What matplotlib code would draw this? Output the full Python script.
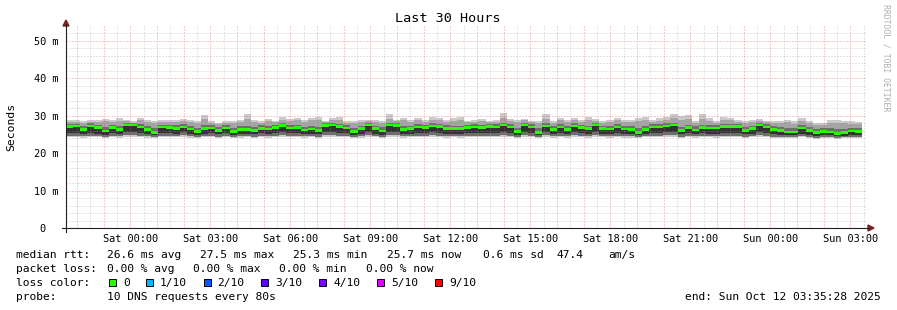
import matplotlib
matplotlib.use("Agg")
import matplotlib.pyplot as plt
from matplotlib.lines import Line2D
from matplotlib.patches import Polygon, Rectangle
import numpy as np

# --- data (ms), one value per 16 min rrd step, Fri 21:35:28 -> Sun 03:35:28 ---
STEP_H = 960 / 3600
START_CLOCK = 21 + 35 / 60 + 28 / 3600   # clock hour of the left edge (Fri)

median = [27.1, 27.2, 26.3, 27.2, 26.8, 25.9, 26.9, 26.3, 27.5, 27.5,
          27.0, 26.3, 25.5, 27.0, 26.9, 26.6, 27.0, 26.4, 25.7, 26.5,
          26.7, 26.0, 26.7, 25.7, 26.3, 26.3, 26.0, 26.6, 26.4, 26.9,
          27.4, 26.7, 26.9, 26.2, 26.4, 26.1, 27.4, 27.5, 27.1, 26.7,
          25.8, 26.5, 27.5, 26.5, 25.9, 27.5, 27.4, 26.3, 26.5, 27.0,
          26.8, 27.2, 27.1, 26.5, 26.5, 26.5, 26.8, 27.0, 26.8, 27.1,
          27.0, 27.5, 27.0, 25.7, 27.5, 27.0, 25.5, 27.2, 26.3, 27.0,
          26.3, 27.2, 26.8, 26.5, 27.5, 26.5, 26.4, 27.0, 26.4, 26.3,
          25.5, 26.3, 27.0, 27.0, 27.2, 27.5, 26.0, 26.8, 26.2, 26.9,
          26.7, 26.7, 27.1, 27.1, 27.1, 26.1, 26.5, 27.5, 27.0, 26.3,
          26.1, 25.6, 25.6, 26.7, 26.0, 25.5, 25.8, 25.6, 25.3, 25.5,
          25.9, 25.7]

smoke_top = [28.9, 28.9, 28.5, 28.9, 28.9, 29.2, 28.9, 29.4, 28.9, 28.5,
             29.4, 28.7, 28.6, 28.8, 28.9, 28.9, 29.1, 28.9, 28.5, 30.1,
             28.6, 28.0, 28.6, 28.5, 28.9, 30.3, 28.9, 28.6, 29.1, 28.5,
             29.5, 29.2, 29.4, 28.9, 29.4, 29.5, 28.6, 29.4, 29.5, 28.6,
             28.5, 28.9, 28.9, 28.9, 28.6, 30.3, 28.9, 29.4, 28.9, 29.4,
             28.9, 29.5, 29.4, 28.9, 29.4, 29.5, 28.6, 28.9, 29.1, 28.6,
             28.9, 30.7, 29.2, 28.9, 29.2, 28.6, 28.6, 30.3, 28.5, 29.4,
             28.9, 29.4, 28.9, 29.5, 29.1, 28.6, 28.9, 29.4, 28.9, 28.9,
             29.4, 29.5, 28.9, 29.4, 29.5, 30.4, 29.8, 30.1, 28.6, 30.3,
             29.4, 28.6, 29.5, 29.4, 28.9, 28.5, 28.9, 29.1, 28.6, 28.5,
             28.5, 28.9, 28.5, 29.4, 28.5, 28.0, 28.0, 28.9, 28.9, 28.5,
             28.5, 28.3]

smoke_upper = [28.4, 28.3, 28.1, 28.4, 28.3, 28.5, 28.4, 28.6, 28.5, 28.1,
               28.7, 28.2, 28.0, 28.3, 28.4, 28.3, 28.5, 28.3, 27.9, 29.0,
               28.1, 27.7, 28.1, 27.9, 28.3, 29.1, 28.3, 28.1, 28.5, 28.2,
               28.9, 28.6, 28.7, 28.3, 28.7, 28.8, 28.2, 28.8, 28.8, 28.1,
               27.9, 28.3, 28.5, 28.4, 28.1, 29.2, 28.5, 28.7, 28.3, 28.7,
               28.4, 28.9, 28.7, 28.3, 28.6, 28.8, 28.2, 28.4, 28.5, 28.2,
               28.4, 29.4, 28.6, 28.2, 28.7, 28.2, 28.0, 29.1, 27.9, 28.7,
               28.3, 28.7, 28.4, 28.8, 28.6, 28.1, 28.4, 28.7, 28.3, 28.3,
               28.5, 28.7, 28.4, 28.6, 28.8, 29.3, 28.9, 29.0, 28.1, 29.1,
               28.6, 28.1, 28.8, 28.7, 28.4, 27.9, 28.3, 28.6, 28.2, 28.0,
               27.9, 28.2, 27.8, 28.5, 27.9, 27.6, 27.6, 28.1, 28.0, 27.9,
               27.8, 27.7]

smoke_mid = [27.8, 27.8, 27.2, 27.9, 27.5, 26.9, 27.6, 27.2, 28.0, 28.0,
             27.7, 27.1, 26.6, 27.6, 27.6, 27.4, 27.7, 27.2, 26.7, 27.4,
             27.4, 26.9, 27.4, 26.8, 27.1, 27.3, 26.9, 27.4, 27.1, 27.6,
             28.0, 27.5, 27.6, 27.0, 27.2, 27.0, 28.0, 28.1, 27.8, 27.4,
             26.8, 27.3, 28.1, 27.3, 26.9, 28.1, 28.0, 27.2, 27.3, 27.7,
             27.6, 27.9, 27.8, 27.4, 27.3, 27.3, 27.5, 27.7, 27.6, 27.8,
             27.7, 28.1, 27.7, 26.8, 28.1, 27.7, 26.6, 27.9, 27.1, 27.7,
             27.1, 27.9, 27.5, 27.3, 28.1, 27.3, 27.2, 27.7, 27.2, 27.1,
             26.6, 27.2, 27.7, 27.7, 27.9, 28.1, 27.0, 27.6, 27.1, 27.6,
             27.5, 27.5, 27.8, 27.8, 27.8, 27.0, 27.3, 28.0, 27.7, 27.1,
             27.0, 26.6, 26.6, 27.4, 26.9, 26.5, 26.8, 26.6, 26.4, 26.5,
             26.8, 26.7]

smoke_core = [25.3, 25.4, 25.1, 25.3, 25.2, 24.9, 25.4, 25.0, 25.5, 25.6,
              25.4, 25.1, 24.8, 25.3, 25.4, 25.2, 25.5, 25.2, 24.9, 25.2,
              25.3, 25.0, 25.3, 24.9, 25.1, 25.2, 25.0, 25.3, 25.1, 25.4,
              25.6, 25.3, 25.4, 25.1, 25.2, 25.0, 25.5, 25.6, 25.4, 25.3,
              24.9, 25.2, 25.6, 25.2, 24.9, 25.6, 25.5, 25.1, 25.2, 25.4,
              25.3, 25.5, 25.4, 25.2, 25.2, 25.2, 25.3, 25.4, 25.3, 25.4,
              25.4, 25.6, 25.4, 24.9, 25.6, 25.4, 24.8, 25.5, 25.1, 25.4,
              25.1, 25.5, 25.3, 25.2, 25.6, 25.2, 25.1, 25.4, 25.1, 25.1,
              24.8, 25.1, 25.4, 25.4, 25.5, 25.6, 25.0, 25.3, 25.1, 25.3,
              25.2, 25.2, 25.4, 25.4, 25.4, 25.0, 25.2, 25.5, 25.3, 25.0,
              24.9, 24.7, 24.7, 25.1, 24.8, 24.6, 24.8, 24.7, 24.5, 24.6,
              24.8, 24.7]

smoke_low = [24.6, 24.6, 24.5, 24.6, 24.5, 24.4, 24.6, 24.5, 24.7, 24.7,
             24.6, 24.5, 24.3, 24.6, 24.6, 24.5, 24.7, 24.5, 24.4, 24.5,
             24.6, 24.4, 24.6, 24.4, 24.5, 24.5, 24.4, 24.6, 24.5, 24.6,
             24.7, 24.6, 24.6, 24.5, 24.5, 24.4, 24.7, 24.7, 24.6, 24.6,
             24.4, 24.5, 24.7, 24.5, 24.4, 24.7, 24.7, 24.5, 24.5, 24.6,
             24.6, 24.7, 24.6, 24.5, 24.5, 24.5, 24.6, 24.6, 24.6, 24.6,
             24.6, 24.7, 24.6, 24.4, 24.7, 24.6, 24.3, 24.7, 24.5, 24.6,
             24.5, 24.7, 24.6, 24.5, 24.7, 24.5, 24.5, 24.6, 24.5, 24.5,
             24.3, 24.5, 24.6, 24.6, 24.7, 24.7, 24.4, 24.6, 24.5, 24.6,
             24.5, 24.5, 24.6, 24.6, 24.6, 24.4, 24.5, 24.7, 24.6, 24.4,
             24.4, 24.2, 24.2, 24.5, 24.3, 24.1, 24.3, 24.2, 24.1, 24.2,
             24.3, 24.2]

smoke_bottom = [24.2, 24.3, 24.1, 24.2, 24.2, 24.0, 24.3, 24.1, 24.3, 24.4,
                24.2, 24.1, 23.9, 24.2, 24.3, 24.2, 24.3, 24.1, 24.0, 24.2,
                24.3, 24.0, 24.2, 24.0, 24.1, 24.2, 24.1, 24.2, 24.1, 24.3,
                24.4, 24.2, 24.3, 24.1, 24.2, 24.0, 24.4, 24.3, 24.2, 24.2,
                24.0, 24.1, 24.4, 24.2, 24.0, 24.3, 24.4, 24.1, 24.2, 24.3,
                24.2, 24.3, 24.3, 24.1, 24.2, 24.1, 24.2, 24.3, 24.2, 24.3,
                24.2, 24.4, 24.3, 24.0, 24.4, 24.2, 23.9, 24.3, 24.1, 24.3,
                24.1, 24.3, 24.2, 24.1, 24.4, 24.2, 24.1, 24.3, 24.1, 24.1,
                24.0, 24.2, 24.3, 24.3, 24.3, 24.4, 24.0, 24.2, 24.1, 24.3,
                24.2, 24.1, 24.3, 24.3, 24.2, 24.0, 24.2, 24.4, 24.3, 24.1,
                24.0, 23.9, 23.9, 24.2, 24.0, 23.8, 24.0, 23.9, 23.8, 23.9,
                24.0, 23.9]

tick_labels = ["Sat 00:00", "Sat 03:00", "Sat 06:00", "Sat 09:00", "Sat 12:00",
               "Sat 15:00", "Sat 18:00", "Sat 21:00", "Sun 00:00", "Sun 03:00"]
y_ticks = [0, 10, 20, 30, 40, 50]
y_tick_labels = ["0  ", "10 m", "20 m", "30 m", "40 m", "50 m"]

loss_labels = ["0", "1/10", "2/10", "3/10", "4/10", "5/10", "9/10"]
loss_colors = ["#26ff00", "#00b8ff", "#0059ff", "#5e00ff", "#7e00ff", "#dd00ff", "#ff0000"]

rtt_stats = ["26.6 ms avg", "27.5 ms max", "25.3 ms min", "25.7 ms now", "0.6 ms sd", "47.4", "am/s"]
loss_stats = ["0.00 % avg", "0.00 % max", "0.00 % min", "0.00 % now"]

# --- layout helpers (pixel -> figure fraction) ---
W, H = 897, 310
def fx(px):
    return px / W
def fy(py):
    return 1 - py / H

MONO = "DejaVu Sans Mono"
plt.rcParams["font.family"] = MONO

fig = plt.figure(figsize=(W / 100, H / 100), dpi=100)
fig.patch.set_facecolor("white")
ax = fig.add_axes([fx(66), fy(228), 800 / W, 202 / H])
ax.set_xlim(0, 30)
ax.set_ylim(0, 202 / 3.746)
for s in ax.spines.values():
    s.set_visible(False)

x = np.arange(len(median)) * STEP_H
med = np.array(median)
bar_kw = dict(width=STEP_H, align="edge", linewidth=0, antialiased=False, zorder=2)

# smoke layers, outside -> inside
ax.bar(x, np.array(smoke_top) - smoke_bottom, bottom=smoke_bottom, color="#cacaca", **bar_kw)
ax.bar(x, np.array(smoke_upper) - smoke_low, bottom=smoke_low, color="#a4a4a4", **bar_kw)
ax.bar(x, np.array(smoke_mid) - smoke_low, bottom=smoke_low, color="#6e6e6e", **bar_kw)
ax.bar(x, med - smoke_core, bottom=smoke_core, color="#323232", **bar_kw)
# median, coloured by loss (all 0 here)
ax.bar(x, 0.72, bottom=med - 0.36, color=loss_colors[0], **bar_kw)

# grid (rrdtool draws it over the graph), dotted
hour0 = np.ceil(START_CLOCK) - START_CLOCK
hours = np.arange(hour0, 30, 1.0)
halves = np.arange(hour0 + 0.5, 30, 1.0)
dots = (0, (1, 2))
gkw = dict(linewidth=0.72, linestyle=dots, zorder=3)
top = ax.get_ylim()[1]
ax.vlines(halves, 0, top, color="#a0a0a0", alpha=0.55, **gkw)
ax.vlines(hours, 0, top, color="#e85050", alpha=0.6, **gkw)
minor_y = [v for v in np.arange(2, 54, 2) if v % 10]
ax.hlines(minor_y, 0, 30, color="#a0a0a0", alpha=0.55, **gkw)
ax.hlines([10, 20, 30, 40, 50], 0, 30, color="#e85050", alpha=0.6, **gkw)

# ticks
label_pos = hours[2::3]
ax.set_xticks(label_pos, tick_labels)
ax.set_yticks(y_ticks, y_tick_labels)
ax.tick_params(axis="both", length=0, labelsize=7.4, colors="black")
ax.tick_params(axis="x", pad=4)
ax.tick_params(axis="y", pad=5.5)

# axes with arrows
axis_col = "#1f1f1f"
fig.add_artist(Line2D([fx(62), fx(869)], [fy(228), fy(228)], color=axis_col, lw=0.8))
fig.add_artist(Line2D([fx(66), fx(66)], [fy(232), fy(24)], color=axis_col, lw=0.8))
arrow_col = "#801f1f"
fig.add_artist(Polygon([[fx(868), fy(225)], [fx(874), fy(228)], [fx(868), fy(231)]],
                       closed=True, color=arrow_col, transform=fig.transFigure))
fig.add_artist(Polygon([[fx(63), fy(26)], [fx(66), fy(20)], [fx(69), fy(26)]],
                       closed=True, color=arrow_col, transform=fig.transFigure))

# titles
fig.text(fx(448), fy(19), "Last 30 Hours", ha="center", va="center", fontsize=9.7)
fig.text(fx(11), fy(127), "Seconds", ha="center", va="center", rotation=90, fontsize=8.2)
fig.text(fx(886), fy(4), "RRDTOOL / TOBI OETIKER", ha="center", va="top",
         rotation=270, fontsize=5.9, color="#b0b0b0")

# legend block
fs = 8.1
base = [257.7, 271.7, 286.0, 300.0]
fig.text(fx(16), fy(base[0]), "median rtt:", fontsize=fs, va="baseline")
for xp, s in zip([107, 200, 293, 387, 483, 556, 608], rtt_stats):
    fig.text(fx(xp), fy(base[0]), s, fontsize=fs, va="baseline")
fig.text(fx(16), fy(base[1]), "packet loss:", fontsize=fs, va="baseline")
for xp, s in zip([107, 193, 279, 366], loss_stats):
    fig.text(fx(xp), fy(base[1]), s, fontsize=fs, va="baseline")
fig.text(fx(16), fy(base[2]), "loss color:", fontsize=fs, va="baseline")
box_x = [109, 146, 203.5, 261, 319, 377, 435]
for bx, lab, col in zip(box_x, loss_labels, loss_colors):
    fig.add_artist(Rectangle((fx(bx), fy(286)), 7 / W, 7 / H, facecolor=col,
                             edgecolor="black", lw=0.7, transform=fig.transFigure))
    fig.text(fx(bx + 14), fy(base[2]), lab, fontsize=fs, va="baseline")
fig.text(fx(16), fy(base[3]), "probe:", fontsize=fs, va="baseline")
fig.text(fx(107), fy(base[3]), "10 DNS requests every 80s", fontsize=fs, va="baseline")
fig.text(fx(881), fy(base[3]), "end: Sun Oct 12 03:35:28 2025", fontsize=fs,
         va="baseline", ha="right")

fig.savefig("out.png", dpi=100, facecolor="white")
